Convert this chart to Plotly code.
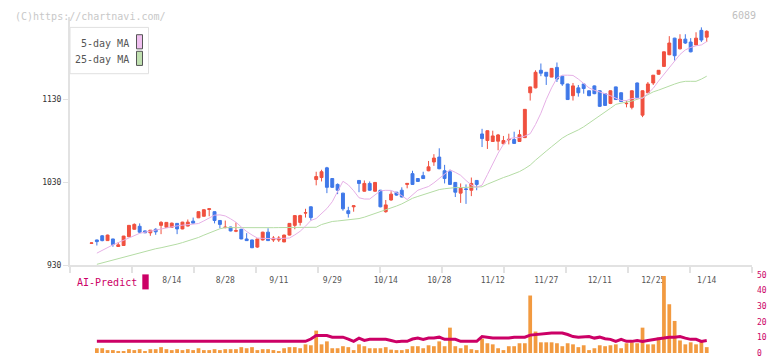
import plotly.graph_objects as go

# ---------------- data ----------------
idx = list(range(116))  # trading-day index, 7/23 ... 1/14

label_idx = [15, 25, 35, 45, 55, 65, 75, 85, 95, 105, 115]
label_text = ["8/14", "8/28", "9/11", "9/29", "10/14", "10/28", "11/12", "11/27", "12/11", "12/25", "1/14"]

opens = [956.5, 960.6, 965.6, 959.8, 961.8, 952.7, 953.9, 964.5, 973.5, 977.1,
         971.5, 969.2, 973.5, 978.2, 975.9, 975.9, 980.6, 973.9, 977.4, 983.3,
         987.3, 989.2, 997.4, 994.7, 984.1, 975.5, 976.2, 971.2, 973.5, 961.8,
         960.6, 952.0, 960.6, 970.0, 960.6, 960.6, 958.2, 966.5, 978.2, 981.8,
         993.0, 1000.6, 1033.5, 1035.9, 1047.6, 1034.7, 1027.6, 1017.1, 995.9, 1000.6,
         1032.4, 1019.4, 1028.8, 1019.4, 1020.6, 994.7, 1008.8, 1018.2, 1020.6, 1027.6,
         1040.6, 1034.7, 1038.2, 1044.1, 1054.7, 1060.6, 1044.1, 1042.9, 1030.0, 1017.1,
         1022.2, 1020.6, 1032.4, 1088.5, 1080.6, 1079.4, 1079.8, 1076.7, 1081.5, 1081.8,
         1079.4, 1084.1, 1138.2, 1144.1, 1165.3, 1162.9, 1157.1, 1168.8, 1158.2, 1148.8,
         1134.7, 1144.1, 1148.8, 1140.6, 1146.5, 1140.6, 1137.1, 1125.3, 1145.3, 1138.2,
         1125.0, 1120.6, 1150.0, 1111.2, 1138.2, 1150.0, 1160.6, 1170.0, 1184.1, 1204.1,
         1191.2, 1202.9, 1199.4, 1195.9, 1213.5, 1205.3]

closes = [957.0, 958.6, 959.8, 966.5, 955.1, 954.7, 965.3, 978.2, 979.4, 970.0,
          969.2, 972.4, 970.4, 981.8, 981.8, 980.9, 973.9, 982.1, 982.1, 980.9,
          994.7, 997.1, 998.2, 984.1, 979.4, 976.0, 971.5, 971.8, 961.8, 959.8,
          951.2, 961.8, 970.0, 959.8, 962.9, 962.9, 966.5, 980.6, 990.0, 990.0,
          993.5, 987.6, 1037.1, 1042.9, 1024.1, 1024.1, 1020.6, 998.2, 992.4, 1001.8,
          1028.8, 1028.8, 1020.6, 1030.0, 1000.6, 1002.9, 1015.9, 1014.7, 1012.4, 1028.8,
          1027.6, 1031.2, 1034.7, 1048.8, 1059.4, 1046.5, 1034.7, 1027.6, 1018.2, 1022.9,
          1021.6, 1028.8, 1027.6, 1082.9, 1092.4, 1086.1, 1087.3, 1080.6, 1082.0, 1077.1,
          1087.6, 1118.2, 1145.3, 1162.9, 1161.8, 1158.2, 1167.6, 1154.7, 1148.8, 1130.0,
          1146.5, 1138.2, 1143.3, 1134.7, 1137.1, 1121.8, 1122.9, 1140.6, 1130.0, 1127.6,
          1125.5, 1140.6, 1132.4, 1140.6, 1148.8, 1159.4, 1165.3, 1187.6, 1198.2, 1182.9,
          1202.9, 1198.2, 1187.6, 1204.1, 1201.8, 1212.4]

highs = [957.5, 961.0, 966.5, 967.0, 962.0, 958.0, 965.5, 978.5, 980.6, 980.6,
         972.0, 972.6, 974.7, 983.3, 982.0, 981.5, 981.0, 982.5, 985.3, 987.6,
         995.0, 997.5, 998.3, 995.0, 984.5, 984.0, 976.5, 981.8, 974.0, 968.8,
         961.0, 962.0, 970.5, 974.7, 965.3, 965.3, 967.0, 981.0, 990.5, 991.0,
         998.2, 1001.0, 1042.9, 1045.3, 1048.8, 1035.0, 1028.8, 1017.5, 1000.6, 1002.0,
         1032.5, 1032.4, 1031.2, 1030.5, 1021.0, 1008.8, 1019.4, 1018.5, 1024.1, 1029.0,
         1044.1, 1035.0, 1042.9, 1055.9, 1064.1, 1071.2, 1051.2, 1045.3, 1030.5, 1028.8,
         1027.6, 1035.9, 1032.6, 1094.7, 1092.8, 1092.4, 1088.5, 1086.1, 1088.8, 1091.2,
         1093.5, 1118.5, 1145.5, 1165.3, 1173.5, 1163.0, 1168.0, 1174.7, 1158.5, 1149.0,
         1150.0, 1147.6, 1148.8, 1141.0, 1147.0, 1141.0, 1137.5, 1141.0, 1145.5, 1138.5,
         1128.8, 1141.0, 1150.5, 1141.0, 1151.2, 1159.6, 1165.5, 1188.0, 1206.5, 1204.5,
         1208.8, 1208.8, 1204.1, 1211.2, 1217.1, 1213.5]

lows = [956.0, 953.9, 959.0, 959.5, 952.4, 952.5, 953.5, 964.0, 973.0, 968.8,
        969.0, 965.6, 966.8, 967.6, 975.5, 975.5, 967.6, 973.5, 977.0, 980.5,
        987.0, 989.0, 989.2, 980.6, 974.7, 974.7, 971.0, 970.0, 961.5, 959.5,
        950.8, 951.0, 960.0, 959.5, 958.2, 958.2, 958.0, 966.0, 973.5, 978.0,
        987.6, 984.1, 1026.5, 1031.2, 1017.1, 1023.5, 1015.9, 995.9, 987.6, 994.7,
        1018.2, 1019.0, 1020.0, 1019.0, 1000.0, 993.5, 1008.0, 1014.0, 1012.0, 1022.9,
        1027.0, 1031.0, 1034.5, 1043.5, 1050.0, 1046.0, 1028.8, 1027.0, 1012.4, 1005.3,
        1004.1, 1013.5, 1020.6, 1072.7, 1070.4, 1079.0, 1068.8, 1076.0, 1075.9, 1076.5,
        1079.0, 1083.5, 1128.8, 1143.5, 1158.2, 1147.6, 1157.0, 1151.2, 1146.5, 1129.5,
        1128.8, 1133.5, 1137.1, 1134.0, 1136.5, 1121.0, 1122.5, 1124.5, 1129.5, 1127.0,
        1120.6, 1118.2, 1132.0, 1108.8, 1138.0, 1147.6, 1160.0, 1169.5, 1183.5, 1177.1,
        1190.5, 1197.1, 1187.0, 1195.5, 1199.4, 1199.4]

ma5 = [None, 944.7, 948.2, 951.6, 954.7, 957.4, 960.2, 962.8, 965.9, 968.6,
       970.0, 971.3, 972.5, 974.0, 975.6, 976.9, 977.6, 978.4, 979.1, 979.8,
       980.4, 983.6, 987.5, 990.5, 990.9, 989.6, 986.1, 982.0, 976.2, 970.8,
       966.6, 962.9, 962.5, 962.1, 961.8, 962.1, 962.6, 962.9, 966.7, 971.1,
       977.2, 984.1, 986.5, 992.6, 998.5, 1006.7, 1019.2, 1031.4, 1027.1, 1020.0,
       1011.5, 1010.0, 1010.0, 1014.9, 1019.9, 1020.5, 1020.4, 1017.6, 1014.1, 1009.4,
       1014.7, 1020.6, 1022.9, 1025.1, 1029.5, 1034.8, 1040.0, 1045.3, 1042.2, 1038.6,
       1032.4, 1026.9, 1024.2, 1026.7, 1039.4, 1052.0, 1065.3, 1075.9, 1082.5, 1084.1,
       1084.1, 1085.9, 1088.8, 1100.0, 1113.5, 1130.0, 1144.1, 1155.9, 1159.4, 1159.4,
       1159.1, 1154.7, 1149.4, 1144.1, 1141.2, 1139.4, 1137.1, 1134.7, 1131.9, 1128.8,
       1128.8, 1131.2, 1131.5, 1131.5, 1137.3, 1143.6, 1152.4, 1160.6, 1168.8, 1177.1,
       1184.4, 1189.9, 1192.9, 1194.9, 1195.9, 1200.0]

ma25 = [None, 931.2, 932.9, 934.7, 936.6, 938.5, 940.4, 942.2, 944.0, 945.6,
        947.4, 948.8, 950.0, 951.2, 952.4, 953.8, 955.6, 957.4, 959.2, 961.1,
        963.6, 966.4, 968.9, 971.6, 974.1, 975.5, 975.4, 975.3, 975.4, 975.5,
        975.5, 975.4, 975.3, 975.3, 975.4, 975.5, 975.5, 975.4, 975.3, 975.3,
        975.4, 975.5, 975.9, 979.2, 981.4, 982.9, 983.5, 984.1, 984.8, 985.5,
        986.4, 988.1, 990.2, 992.7, 995.2, 997.3, 999.4, 1001.5, 1004.1, 1008.0,
        1010.9, 1013.1, 1015.2, 1017.3, 1019.4, 1021.4, 1022.4, 1023.2, 1023.8, 1023.8,
        1023.8, 1023.8, 1023.8, 1024.7, 1027.9, 1030.7, 1033.4, 1035.9, 1038.1, 1040.6,
        1043.1, 1046.7, 1050.9, 1056.9, 1062.9, 1067.8, 1073.1, 1078.2, 1083.5, 1087.3,
        1090.2, 1093.4, 1097.1, 1101.5, 1106.0, 1109.8, 1114.5, 1119.5, 1124.2, 1126.1,
        1127.1, 1128.2, 1130.0, 1132.4, 1135.9, 1139.3, 1141.4, 1144.1, 1146.7, 1148.7,
        1150.8, 1152.0, 1152.0, 1152.0, 1154.7, 1158.2]

volume = [None, 3.1, 3.1, 1.9, 1.9, 1.3, 1.3, 2.5, 1.9, 2.5,
          1.3, 2.5, 2.5, 3.8, 2.5, 1.9, 2.5, 1.9, 2.5, 1.9,
          3.1, 1.9, 1.9, 2.5, 1.9, 2.5, 2.5, 2.5, 3.8, 3.1,
          3.8, 1.9, 2.5, 2.5, 1.9, 1.3, 3.1, 3.8, 3.8, 3.1,
          5.6, 5.0, 14.4, 5.6, 7.5, 3.1, 3.1, 4.4, 3.8, 1.9,
          5.6, 4.4, 3.1, 3.1, 3.1, 3.8, 2.2, 1.9, 1.9, 2.5,
          4.4, 4.4, 3.1, 5.0, 4.4, 7.5, 4.4, 16.3, 4.4, 3.1,
          5.0, 2.5, 1.9, 9.2, 6.3, 5.6, 3.1, 1.9, 4.4, 4.4,
          6.3, 6.3, 36.9, 13.8, 6.9, 6.9, 6.9, 6.3, 4.4, 6.3,
          5.6, 3.8, 5.0, 1.9, 3.1, 5.0, 4.4, 5.0, 5.6, 3.1,
          6.3, 6.9, 6.3, 16.3, 5.6, 5.6, 10.0, 49.4, 31.3, 20.6,
          8.1, 5.6, 6.9, 5.6, 7.5, 3.8]

ai_predict = [None, 7.5, 7.5, 7.5, 7.5, 7.5, 7.5, 7.5, 7.5, 7.5,
              7.5, 7.5, 7.5, 7.5, 7.5, 7.5, 7.5, 7.5, 7.5, 7.5,
              7.5, 7.5, 7.5, 7.5, 7.5, 7.5, 7.5, 7.5, 7.5, 7.5,
              7.5, 7.5, 7.5, 7.5, 7.5, 7.5, 7.5, 7.5, 7.5, 7.5,
              7.5, 9.0, 11.3, 11.3, 11.3, 10.2, 10.2, 10.2, 9.0, 7.5,
              9.6, 8.1, 8.8, 8.8, 8.8, 8.8, 8.1, 7.2, 7.5, 7.5,
              9.0, 9.6, 8.8, 9.6, 9.6, 10.2, 8.8, 8.8, 8.8, 7.5,
              7.5, 7.5, 7.5, 10.6, 10.0, 9.6, 9.6, 9.6, 9.6, 10.2,
              10.2, 10.2, 11.5, 11.9, 12.2, 12.9, 12.9, 12.9, 12.9, 11.9,
              10.6, 10.2, 10.2, 10.6, 9.6, 10.2, 9.2, 8.8, 7.5, 8.8,
              7.5, 7.5, 8.1, 7.5, 8.1, 8.8, 9.2, 9.6, 10.2, 10.2,
              10.6, 9.6, 8.8, 8.8, 7.5, 8.1]

price_ticks = [930, 1030, 1130]
vol_ticks = [0, 10, 20, 30, 40, 50]

# ---------------- styling / layout helpers ----------------
W, H = 772, 361
def fx(p):
    return p / W
def fy(p):
    return 1 - p / H

RED = "#f0503f"
BLUE = "#3f78e8"
PINK = "#e6b0e6"
GREEN = "#b4dca4"
ORANGE = "#f29a40"
CRIMSON = "#cc0066"
AXIS = "#e2e2e2"
MONO = "DejaVu Sans Mono"

X_LO, X_HI = -4.02, 123.46
minor_ticks = [X_LO + k * (X_HI - X_LO) / 11 for k in range(12)]
minor_ticks[0] += 0.01
minor_ticks[-1] -= 0.01

fig = go.Figure()

fig.add_trace(go.Scatter(x=idx, y=ma25, mode="lines", line=dict(color=GREEN, width=1),
                         xaxis="x", yaxis="y", showlegend=False, hoverinfo="skip"))
fig.add_trace(go.Scatter(x=idx, y=ma5, mode="lines", line=dict(color=PINK, width=1),
                         xaxis="x", yaxis="y", showlegend=False, hoverinfo="skip"))
fig.add_trace(go.Candlestick(
    x=idx, open=opens, high=highs, low=lows, close=closes,
    increasing=dict(line=dict(color=RED, width=1), fillcolor=RED),
    decreasing=dict(line=dict(color=BLUE, width=1), fillcolor=BLUE),
    whiskerwidth=0, xaxis="x", yaxis="y", showlegend=False, hoverinfo="skip"))

fig.add_trace(go.Bar(x=idx, y=volume, marker=dict(color=ORANGE, line=dict(width=0)), width=0.7,
                     xaxis="x2", yaxis="y2", showlegend=False, hoverinfo="skip"))
fig.add_trace(go.Scatter(x=idx, y=ai_predict, mode="lines", line=dict(color=CRIMSON, width=3),
                         xaxis="x2", yaxis="y2", showlegend=False, hoverinfo="skip"))

fig.update_layout(
    width=W, height=H, margin=dict(l=0, r=0, t=0, b=0),
    paper_bgcolor="white", plot_bgcolor="white", hovermode=False,
    boxgap=0.22,
    xaxis=dict(domain=[fx(70), fx(752)], range=[X_LO, X_HI], anchor="y",
               showline=True, linecolor=AXIS, linewidth=2, showgrid=False, zeroline=False,
               tickmode="array", tickvals=label_idx, ticktext=label_text, ticks="",
               tickfont=dict(family=MONO, size=8, color="#555555"), ticklabelstandoff=6,
               minor=dict(tickmode="array", tickvals=minor_ticks, ticks="outside",
                          ticklen=6, tickcolor=AXIS, tickwidth=2, showgrid=False),
               rangeslider=dict(visible=False), fixedrange=True),
    yaxis=dict(domain=[fy(268), fy(13)], range=[930, 1230], anchor="x",
               showline=True, linecolor=AXIS, linewidth=2, showgrid=False, zeroline=False,
               tickmode="array", tickvals=price_ticks, ticks="outside", ticklen=5,
               tickcolor=AXIS, tickwidth=1,
               tickfont=dict(family=MONO, size=8, color="#333333"), fixedrange=True),
    xaxis2=dict(domain=[fx(70), fx(752)], range=[X_LO, X_HI], anchor="y2",
                visible=False, fixedrange=True),
    yaxis2=dict(domain=[fy(358), fy(278)], range=[0, 50], anchor="x2", side="right",
                showline=False, showgrid=False, zeroline=False, ticks="",
                tickmode="array", tickvals=vol_ticks, ticklabelstandoff=4,
                tickfont=dict(family=MONO, size=8, color=CRIMSON), fixedrange=True),
)

shapes = [
    # legend box
    dict(type="rect", xref="paper", yref="paper", x0=fx(70), x1=fx(148.5), y0=fy(71.5), y1=fy(24),
         line=dict(color="#e0e0e0", width=1), fillcolor="white", layer="above"),
    dict(type="rect", xref="paper", yref="paper", x0=fx(136.5), x1=fx(142.5), y0=fy(46), y1=fy(31.5),
         line=dict(color="#555555", width=1), fillcolor="#f0c0f0", layer="above"),
    dict(type="rect", xref="paper", yref="paper", x0=fx(136.5), x1=fx(142.5), y0=fy(63), y1=fy(48.5),
         line=dict(color="#555555", width=1), fillcolor="#c0e0b0", layer="above"),
    # AI-Predict marker
    dict(type="rect", xref="paper", yref="paper", x0=fx(142.3), x1=fx(148.7), y0=fy(292.7), y1=fy(277.3),
         line=dict(width=0), fillcolor=CRIMSON, layer="above"),
]

annotations = [
    dict(text="(C)https://chartnavi.com/", xref="paper", yref="paper", x=fx(13), y=fy(12.5),
         xanchor="left", yanchor="middle", showarrow=False,
         font=dict(family=MONO, size=10, color="#c8c8c8")),
    dict(text="6089", xref="paper", yref="paper", x=fx(758), y=fy(12),
         xanchor="right", yanchor="middle", showarrow=False,
         font=dict(family=MONO, size=10, color="#c0c0c0")),
    dict(text="5-day MA", xref="paper", yref="paper", x=fx(131), y=fy(40),
         xanchor="right", yanchor="middle", showarrow=False,
         font=dict(family=MONO, size=10, color="#555555")),
    dict(text="25-day MA", xref="paper", yref="paper", x=fx(131), y=fy(56.5),
         xanchor="right", yanchor="middle", showarrow=False,
         font=dict(family=MONO, size=10, color="#555555")),
    dict(text="AI-Predict", xref="paper", yref="paper", x=fx(75), y=fy(286),
         xanchor="left", yanchor="middle", showarrow=False,
         font=dict(family=MONO, size=10, color=CRIMSON)),
]

fig.update_layout(shapes=shapes, annotations=annotations)

page_fix = (
    "document.documentElement.style.margin='0';"
    "document.documentElement.style.overflow='hidden';"
    "document.body.style.margin='0';"
    "document.body.style.overflow='hidden';"
    "var gd=document.getElementsByClassName('plotly-graph-div')[0];"
    "gd.style.lineHeight='0';gd.style.fontSize='0';gd.style.overflow='hidden';"
    "var sc=gd.getElementsByClassName('svg-container');"
    "for(var i=0;i<sc.length;i++){sc[i].style.verticalAlign='top';}"
)

fig.write_html("out.html", config={"displayModeBar": False, "staticPlot": True},
               post_script=page_fix)
